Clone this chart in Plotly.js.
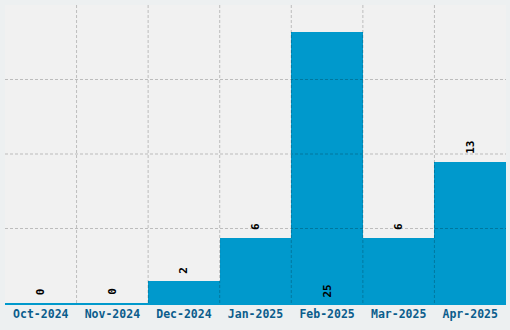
<!DOCTYPE html>
<html>
<head>
<meta charset="utf-8">
<script src="https://cdn.plot.ly/plotly-3.0.1.min.js"></script>
<style>html,body{margin:0;padding:0;background:#edf0f1;}#chart{width:510px;height:330px;}</style>
</head>
<body>
<div id="chart"></div>
<script>
const months = ['Oct-2024','Nov-2024','Dec-2024','Jan-2025','Feb-2025','Mar-2025','Apr-2025'];
const counts = [0, 0, 2, 6, 25, 6, 13];
const labelInside = [false, false, false, false, true, false, false];

const yMax = Math.max(...counts) * 1.1;
const yStep = yMax / 4;

const gridColor = 'rgba(0,0,0,0.22)';
const shapes = [];
for (let i = 0; i < months.length - 1; i++) {
  shapes.push({type:'line', layer:'above', xref:'x', yref:'paper', x0:i+0.5, x1:i+0.5, y0:0, y1:1,
    line:{color:gridColor, width:1, dash:'3px,2px'}});
}
for (let k = 1; k < 4; k++) {
  shapes.push({type:'line', layer:'above', xref:'paper', yref:'y', x0:0, x1:1, y0:k*yStep, y1:k*yStep,
    line:{color:gridColor, width:1, dash:'3px,2px'}});
}

const labelFont = {family:'DejaVu Sans Mono', size:11, color:'#000', weight:'bold'};
const annotations = months.map((m, i) => ({
  x: m, y: labelInside[i] ? 0 : counts[i], xref:'x', yref:'y',
  text: String(counts[i]), showarrow:false, textangle:-90,
  yanchor:'bottom', xanchor:'center', yshift: labelInside[i] ? 3 : 6,
  font: labelFont
}));

const trace = {
  type:'bar', x: months, y: counts,
  marker:{color:'#0099cc', line:{width:0}},
  hoverinfo:'none'
};

const layout = {
  width:510, height:330,
  margin:{l:5, r:4, t:5, b:27, pad:0},
  paper_bgcolor:'#edf0f1', plot_bgcolor:'#f1f1f1',
  bargap:0,
  showlegend:false,
  xaxis:{type:'category', showgrid:false, zeroline:false, showline:true, linecolor:'#0099cc', linewidth:1.5,
    layer:'above traces',
    ticks:'', tickfont:{family:'DejaVu Sans Mono', size:11.5, color:'#0b5d8c', weight:'bold'}, fixedrange:true},
  yaxis:{range:[0, yMax], showgrid:false, zeroline:false, showticklabels:false, ticks:'', fixedrange:true},
  shapes: shapes,
  annotations: annotations
};

Plotly.newPlot('chart', [trace], layout, {staticPlot:true, displayModeBar:false});
</script>
</body>
</html>
